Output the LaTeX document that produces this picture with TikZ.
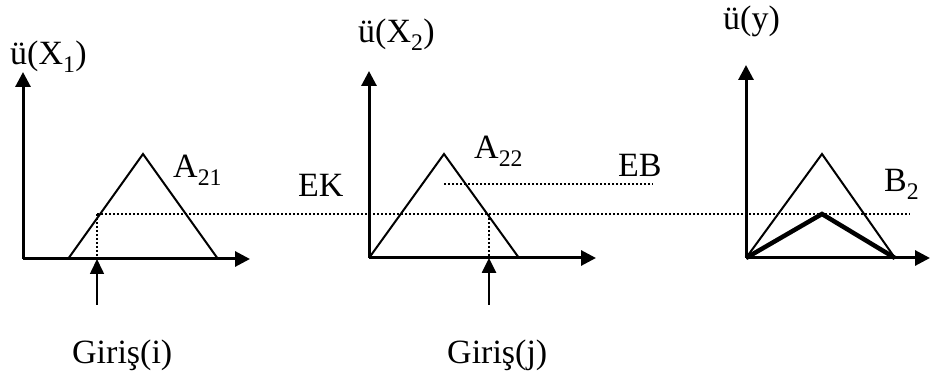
\documentclass[tikz,border=0pt]{standalone}
\usepackage{fontspec}
\setmainfont{Liberation Serif}
\usetikzlibrary{arrows.meta}
\begin{document}
\begin{tikzpicture}[x=1pt,y=-1pt,
  axis/.style={line width=3pt,-{Triangle[length=15pt,width=15pt]}},
  mf/.style={line width=2pt,line join=miter},
  mfthick/.style={line width=4.5pt,line join=miter},
  dots/.style={line width=2pt,dash pattern=on 2pt off 2pt},
  inarrow/.style={-{Triangle[length=15pt,width=14pt]}},
  lbl/.style={anchor=base west,inner sep=0pt,font=\fontsize{34}{40}\selectfont}]
\useasboundingbox (0,0) rectangle (930,382);
% panel 1
\coordinate (o1) at (23,259);
\coordinate (y1) at (23,72);
\coordinate (x1) at (250,259);
\coordinate (l1) at (68,259);
\coordinate (p1) at (143,154);
\coordinate (r1) at (218,259);
\coordinate (c1) at (97,214);
\coordinate (b1) at (97,259);
\coordinate (t1) at (97,305);
% panel 2
\coordinate (o2) at (369,258);
\coordinate (y2) at (369,71);
\coordinate (x2) at (596,258);
\coordinate (p2) at (444,154);
\coordinate (r2) at (519,258);
\coordinate (c2) at (489,214);
\coordinate (b2) at (489,258);
\coordinate (t2) at (489,305);
\coordinate (eb1) at (444,184);
\coordinate (eb2) at (653,184);
% panel 3
\coordinate (o3) at (746,258);
\coordinate (y3) at (746,65);
\coordinate (x3) at (930,258);
\coordinate (p3) at (822,154);
\coordinate (r3) at (895,258);
\coordinate (q3) at (822,214);
\coordinate (ek2) at (910,214);
% dotted lines
\draw[dots] (c1) -- (ek2);
\draw[dots] (c1) -- (b1);
\draw[dots] (c2) -- (b2);
\draw[dots] (eb1) -- (eb2);
% triangles
\draw[mf] (l1) -- (p1) -- (r1);
\draw[mf] (o2) -- (p2) -- (r2);
\draw[mf] (o3) -- (p3) -- (r3);
\draw[mfthick] (o3) -- (q3) -- (r3);
% axes
\draw[axis] (o1) -- (y1);
\draw[axis] (o1) -- (x1);
\draw[axis] (o2) -- (y2);
\draw[axis] (o2) -- (x2);
\draw[axis] (o3) -- (y3);
\draw[axis] (o3) -- (x3);
% input arrows
\draw[inarrow,line width=1.6pt] (t1) -- (b1);
\draw[inarrow,line width=2.6pt] (t2) -- (b2);
% labels
\node[lbl] (lx1) at (10,65) {ü(X\textsubscript{1})};
\node[lbl] (la21) at (173,178) {A\textsubscript{21}};
\node[lbl] (lek) at (298,197) {EK};
\node[lbl] (lx2) at (358,43) {ü(X\textsubscript{2})};
\node[lbl] (la22) at (474,159) {A\textsubscript{22}};
\node[lbl] (leb) at (618,177) {EB};
\node[lbl] (ly) at (723,30) {ü(y)};
\node[lbl] (lb2) at (884,192) {B\textsubscript{2}};
\node[lbl] (gi) at (72,363) {Giriş(i)};
\node[lbl] (gj) at (447,363) {Giriş(j)};
\end{tikzpicture}
\end{document}
